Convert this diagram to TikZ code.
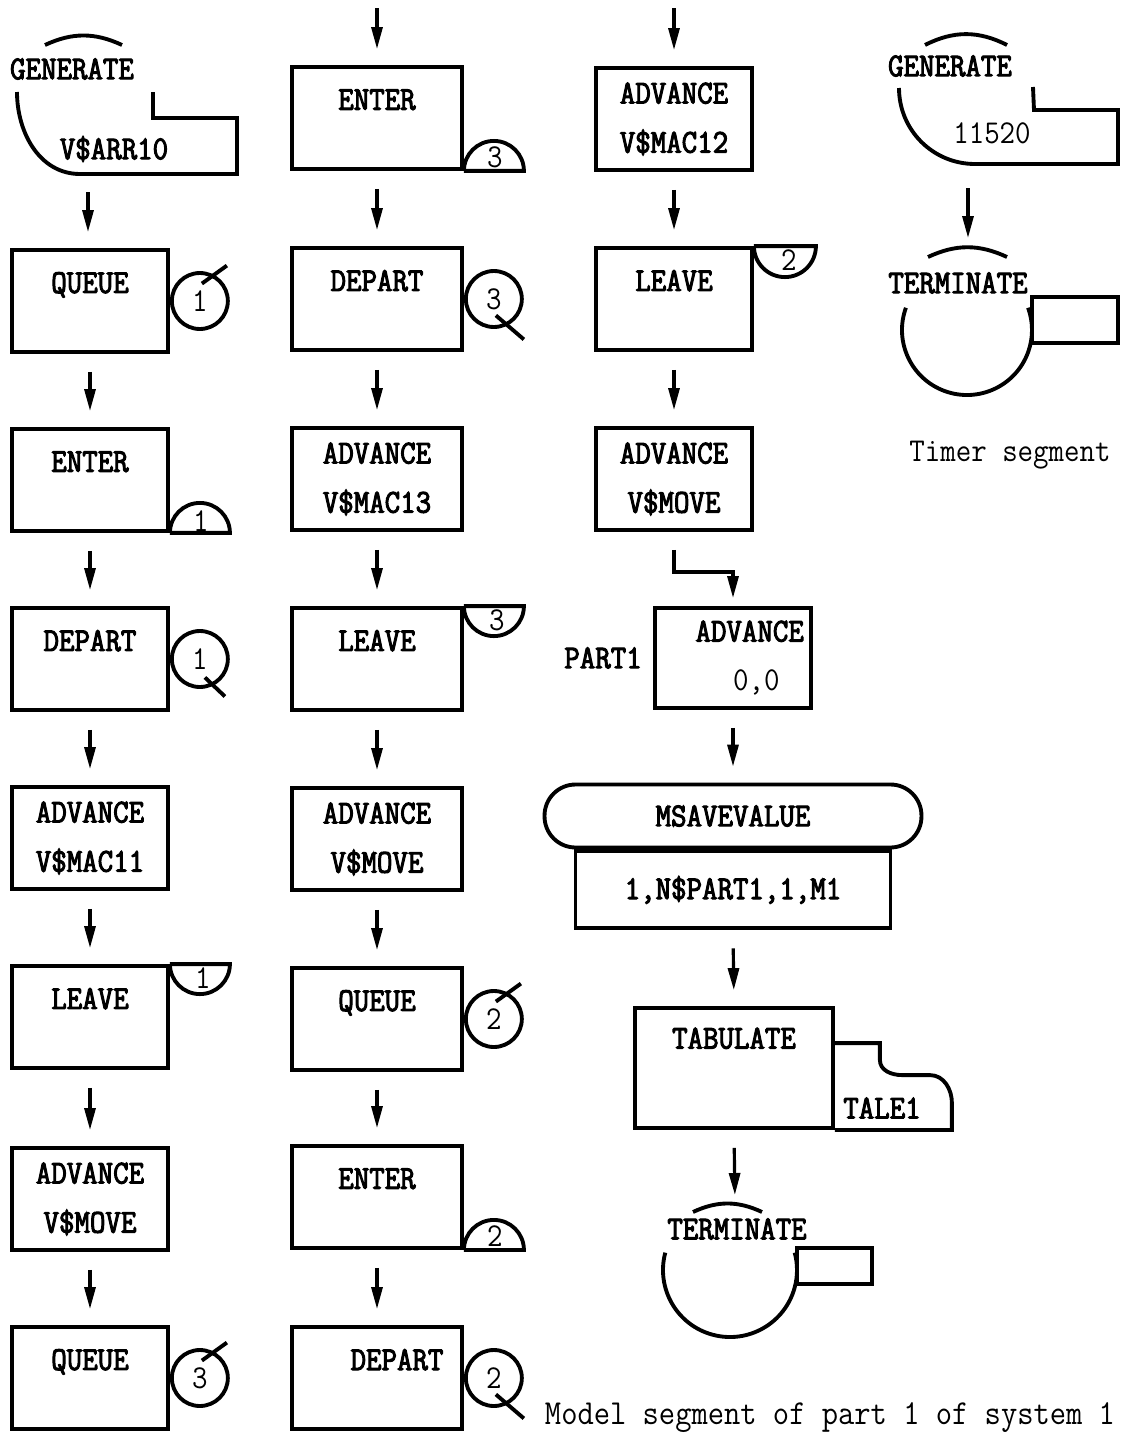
\documentclass[tikz,border=0pt]{standalone}
\usepackage{fontspec}
\usetikzlibrary{arrows.meta,positioning}
\newfontfamily\tw[FakeStretch=0.9]{Latin Modern Mono}
\newfontfamily\twb[FakeStretch=0.9, FakeBold=3]{Latin Modern Mono}
\newcommand{\nm}{\twb\fontsize{19}{28}\selectfont}
\newcommand{\op}{\tw\fontsize{19}{28}\selectfont}
\newcommand{\oneline}[1]{#1\\[-7pt]\mbox{}}
\tikzset{
  blk/.style={draw, line width=2.2pt, minimum width=3.12cm, minimum height=2.04cm,
    align=center, font=\nm, inner sep=0pt},
  wide/.style={minimum width=3.4cm},
  qcirc/.style={draw, circle, line width=2.2pt, minimum size=1.12cm, inner sep=0pt,
    font=\op, anchor=west},
  flow/.style={line width=1.8pt, -{Triangle[length=0.44cm,width=0.22cm]},
    shorten <=0.36cm, shorten >=0.32cm},
  lbl/.style={font=\nm, inner sep=0pt},
  txt/.style={font=\op, inner sep=0pt},
  line/.style={line width=2.2pt}
}
\begin{document}
\begin{tikzpicture}[x=0.02cm, y=0.02cm]
\useasboundingbox (0,0) rectangle (1128,-1434);

% left column
\draw[line] (45,-45) to[bend left=25] (122,-45);
\node[lbl] (gen1) at (72,-69) {GENERATE};
\draw[line] (17,-92) to[out=-90,in=180] (80,-174) -- (237,-174) -- (237,-118) -- (153,-118) -- (153,-92);
\node[lbl] (gen1op) at (114,-149) {V\$ARR10};
\coordinate (gen1out) at (88,-174);

\node[blk] (q1) at (90,-301) {\oneline{QUEUE}};
\node[blk] (en1) at (90,-480) {\oneline{ENTER}};
\node[blk] (dp1) at (90,-659) {\oneline{DEPART}};
\node[blk] (ad1) at (90,-838) {ADVANCE\\V\$MAC11};
\node[blk] (lv1) at (90,-1017) {\oneline{LEAVE}};
\node[blk] (ad2) at (90,-1199) {ADVANCE\\V\$MOVE};
\node[blk] (q3) at (90,-1378) {\oneline{QUEUE}};

\node[qcirc] (q1c) at (q1.east) {1};
\draw[line] (q1c.62) +(-12,-9) -- +(13,9);
\draw[line] (en1.south east) -- ++(60,0) arc[start angle=0, end angle=180, radius=30];
\path (en1.south east) ++(31,12) node[txt] (en1n) {1};
\node[qcirc] (dp1c) at (dp1.east) {1};
\draw[line] (dp1c.-62) +(-9,8) -- +(11,-11);
\draw[line] (lv1.north east) -- ++(60,0) arc[start angle=0, end angle=-180, radius=30];
\path (lv1.north east) ++(33,-14) node[txt] (lv1n) {1};
\node[qcirc] (q3c) at (q3.east) {3};
\draw[line] (q3c.62) +(-12,-9) -- +(13,9);

\draw[flow] (gen1out) -- (gen1out |- q1.north);
\foreach \a/\b in {q1/en1, en1/dp1, dp1/ad1, ad1/lv1, lv1/ad2, ad2/q3}
  \draw[flow] (\a.south) -- (\b.north);

% middle column
\coordinate (top2) at (377,-8);
\node[blk, wide] (en3) at (377,-118) {\oneline{ENTER}};
\node[blk, wide] (dp3) at (377,-299) {\oneline{DEPART}};
\node[blk, wide] (ad3) at (377,-479) {ADVANCE\\V\$MAC13};
\node[blk, wide] (lv3) at (377,-659) {\oneline{LEAVE}};
\node[blk, wide] (ad4) at (377,-839) {ADVANCE\\V\$MOVE};
\node[blk, wide] (q2) at (377,-1019) {\oneline{QUEUE}};
\node[blk, wide] (en2) at (377,-1197) {\oneline{ENTER}};
\node[blk, wide] (dp2) at (377,-1378) {\oneline{\hspace*{1.2em}DEPART}};

\draw[line] (en3.south east) -- ++(60,0) arc[start angle=0, end angle=180, radius=30];
\path (en3.south east) ++(31,14) node[txt] (en3n) {3};
\node[qcirc] (dp3c) at (dp3.east) {3};
\draw[line] (dp3c.-62) +(-12,10) -- +(16,-14);
\draw[line] (lv3.north east) -- ++(60,0) arc[start angle=0, end angle=-180, radius=30];
\path (lv3.north east) ++(33,-14) node[txt] (lv3n) {3};
\node[qcirc] (q2c) at (q2.east) {2};
\draw[line] (q2c.62) +(-12,-9) -- +(13,9);
\draw[line] (en2.south east) -- ++(60,0) arc[start angle=0, end angle=180, radius=30];
\path (en2.south east) ++(31,14) node[txt] (en2n) {2};
\node[qcirc] (dp2c) at (dp2.east) {2};
\draw[line] (dp2c.-62) +(-12,10) -- +(16,-14);

\draw[flow, shorten <=0pt] (top2) -- (en3.north);
\foreach \a/\b in {en3/dp3, dp3/ad3, ad3/lv3, lv3/ad4, ad4/q2, q2/en2, en2/dp2}
  \draw[flow] (\a.south) -- (\b.north);

% right column
\coordinate (top3) at (674,-8);
\node[blk] (ad5) at (674,-119) {ADVANCE\\V\$MAC12};
\node[blk] (lv2) at (674,-299) {\oneline{LEAVE}};
\node[blk] (ad6) at (674,-479) {ADVANCE\\V\$MOVE};
\node[blk, minimum height=2cm] (ad7) at (733,-658) {\hspace*{1em}ADVANCE\\\hspace*{1.4em}\tw 0,0};
\node[lbl, left=0.22cm of ad7] (part1) {PART1};
\node[draw, line, rounded corners=0.62cm, minimum width=7.54cm, minimum height=1.26cm,
  font=\nm] (ms) at (733,-816) {MSAVEVALUE};
\node[draw, line, minimum width=6.3cm, minimum height=1.54cm, font=\nm,
  anchor=north] (msb) at (ms.south) {1,N\$PART1,1,M1};
\node[blk, minimum width=3.96cm, minimum height=2.4cm] (tb) at (734,-1068) {TABULATE\\[6pt]\mbox{}};
\draw[line] (tb.north east) ++(0,-37) -- ++(45,0) -- ++(0,-17) to[out=-90,in=180] ++(22,-15)
  -- ++(28,0) to[out=0,in=90] ++(22,-28) |- (tb.south east);
\node[lbl] (tale) at (882,-1108) {TALE1};

\draw[line] (693,-1212) to[bend left=25] (762,-1212);
\node[lbl] (term1) at (737,-1229) {TERMINATE};
\draw[line] (730,-1270) ++(165:67) arc[start angle=165, end angle=375, radius=67];
\draw[line] (797,-1248) rectangle (872,-1284);
\coordinate (term1in) at (735,-1203);

\draw[line] (lv2.north east) -- ++(62,0) arc[start angle=0, end angle=-180, radius=31];
\path (lv2.north east) ++(35,-14) node[txt] (lv2n) {2};

\draw[flow, shorten <=0pt] (top3) -- (ad5.north);
\foreach \a/\b in {ad5/lv2, lv2/ad6}
  \draw[flow] (\a.south) -- (\b.north);
\draw[flow, shorten >=0.16cm] (ad6.south) -- ++(0,-40) -| (ad7.north);
\draw[flow] (ad7.south -| ms) -- (ms.north);
\draw[flow] (msb.south) -- (tb.north);
\draw[flow, shorten >=0.16cm] (tb.south) -- (term1in);

% timer segment
\draw[line] (925,-45) to[bend left=27] (1007,-45);
\node[lbl] (gen2) at (950,-66) {GENERATE};
\draw[line] (899,-88) to[out=-90,in=180] (975,-164) -- (1118,-164) -- (1118,-110) -- (1034,-110) -- (1033,-87);
\node[txt] (gen2op) at (992,-133) {11520};
\coordinate (gen2out) at (968,-164);
\draw[line] (928,-257) to[bend left=25] (1007,-257);
\node[lbl] (term2) at (958,-283) {TERMINATE};
\draw[line] (967,-330) ++(160:65) arc[start angle=160, end angle=380, radius=65];
\draw[line] (1032,-297) rectangle (1118,-343);
\coordinate (term2in) at (968,-250);
\draw[flow, shorten <=0.48cm, shorten >=0.24cm] (gen2out) -- (term2in);

\node[txt] (timer) at (1010,-455) {Timer segment};
\node[txt, font=\tw\fontsize{20}{28}\selectfont] (model) at (830,-1418) {Model segment of part 1 of system 1};
\end{tikzpicture}
\end{document}
